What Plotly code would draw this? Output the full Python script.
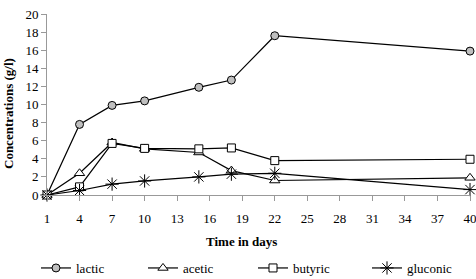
import plotly.graph_objects as go

days = [1, 4, 7, 10, 15, 18, 22, 40]
lactic = [0, 7.8, 9.9, 10.4, 11.9, 12.7, 17.6, 15.9]
acetic = [0, 2.4, 5.8, 5.1, 4.7, 2.7, 1.6, 1.9]
butyric = [0, 0.9, 5.7, 5.15, 5.1, 5.2, 3.8, 3.95]
gluconic = [0, 0.5, 1.2, 1.55, 2.0, 2.3, 2.4, 0.6]
x_ticks = list(range(1, 41, 3))
y_ticks = list(range(0, 21, 2))
x_title = "Time in days"
y_title = "Concentrations (g/l)"

SERIF = "Times New Roman"
PW, PH, L, T = 423, 181, 47, 14

fig = go.Figure()
specs = [
    ("lactic", lactic, "circle", "#bfbfbf", 8, "legend", 36),
    ("acetic", acetic, "triangle-up", "white", 9, "legend2", 143),
    ("butyric", butyric, "square", "white", 8, "legend3", 253),
    ("gluconic", gluconic, "asterisk-open", "black", 11, "legend4", 367),
]
legends = {}
for name, vals, sym, fill, size, lg, px in specs:
    fig.add_trace(go.Scatter(
        x=days, y=vals, name=name, mode="lines+markers",
        line=dict(color="black", width=1.2),
        marker=dict(symbol=sym, size=size, color=fill,
                    line=dict(color="black", width=1)),
        cliponaxis=False, legend=lg,
    ))
    legends[lg] = dict(orientation="h", x=(px - L) / PW, xanchor="left",
                       y=(T + PH - 268) / PH, yanchor="middle",
                       font=dict(family=SERIF, size=13),
                       itemwidth=30, bgcolor="rgba(0,0,0,0)")

fig.update_layout(
    width=476, height=279,
    margin=dict(l=L, r=6, t=T, b=84, autoexpand=False),
    paper_bgcolor="white", plot_bgcolor="white",
    font=dict(family=SERIF, size=12, color="black"),
    showlegend=True,
    xaxis=dict(range=[1, 40], tickvals=x_ticks, showgrid=False, zeroline=False,
               showline=True, linecolor="#999999", linewidth=1,
               ticks="outside", ticklen=5, tickcolor="#999999",
               tickfont=dict(size=13), ticklabelstandoff=6, automargin=False,
               ticklabeloverflow="allow"),
    yaxis=dict(range=[0, 20], tickvals=y_ticks, showgrid=False, zeroline=False,
               showline=True, linecolor="#999999", linewidth=1,
               ticks="outside", ticklen=5, tickcolor="#999999",
               tickfont=dict(size=13), automargin=False),
    annotations=[
        dict(text=f"<b>{x_title}</b>", xref="paper", yref="paper",
             x=(241 - L) / PW, y=(T + PH - 241) / PH, xanchor="center", yanchor="middle",
             showarrow=False, font=dict(family=SERIF, size=13)),
        dict(text=f"<b>{y_title}</b>", xref="paper", yref="paper", textangle=-90,
             x=(9 - L) / PW, y=(T + PH - 114) / PH, xanchor="center", yanchor="middle",
             showarrow=False, font=dict(family=SERIF, size=13)),
    ],
)
fig.update_layout(**legends)
fig.write_html("out.html", config={"displayModeBar": False},
               post_script="document.body.style.margin='0';document.body.style.padding='0';")
